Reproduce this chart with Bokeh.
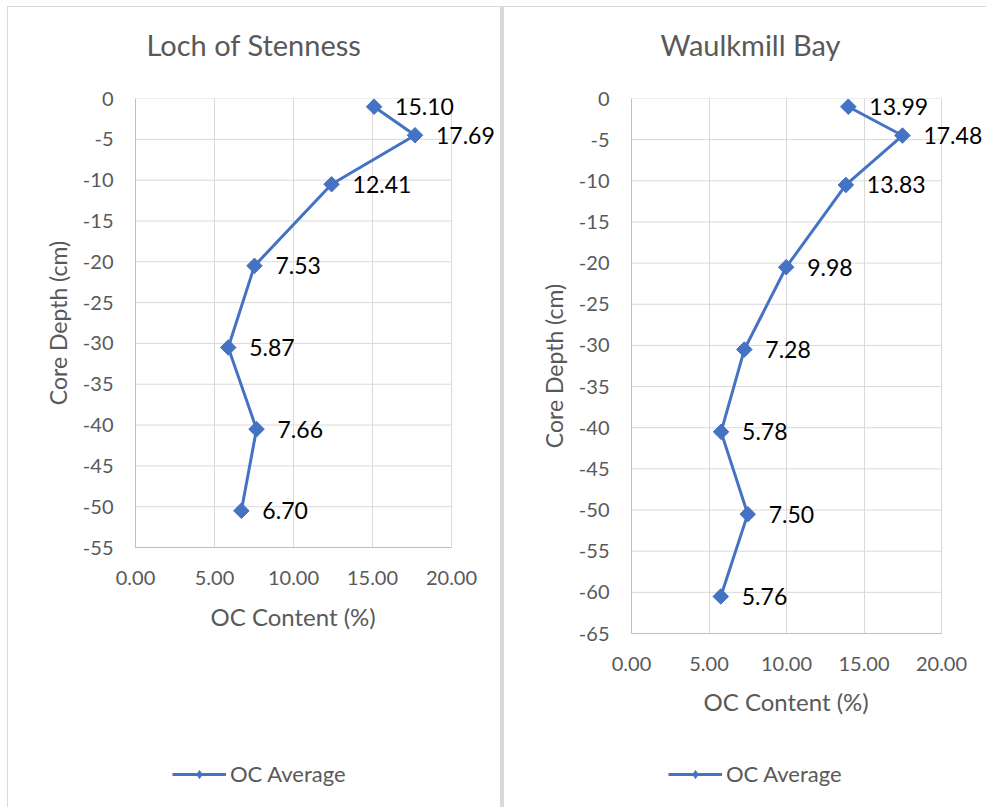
import math
from bokeh.plotting import figure
from bokeh.layouts import row, column
from bokeh.models import (ColumnDataSource, Range1d, FixedTicker, NumeralTickFormatter,
                          Legend, LegendItem, Title)
from bokeh.core.properties import value
from bokeh.embed import file_html
from bokeh.resources import INLINE

# Organic carbon profiles (depth in cm, OC in %)
stenness_depth = [-1, -4.5, -10.5, -20.5, -30.5, -40.5, -50.5]
stenness_oc = [15.10, 17.69, 12.41, 7.53, 5.87, 7.66, 6.70]

waulkmill_depth = [-1, -4.5, -10.5, -20.5, -30.5, -40.5, -50.5, -60.5]
waulkmill_oc = [13.99, 17.48, 13.83, 9.98, 7.28, 5.78, 7.50, 5.76]

x_ticks = [0, 5, 10, 15, 20]
stenness_y_ticks = [0, -5, -10, -15, -20, -25, -30, -35, -40, -45, -50, -55]
waulkmill_y_ticks = [0, -5, -10, -15, -20, -25, -30, -35, -40, -45, -50, -55, -60, -65]

BLUE = "#4472C4"
GREY_TEXT = "#595959"
GRID = "#d9d9d9"
AXIS = "#bfbfbf"
FONT = "Lato"
MAIN_H = 730
KEY_H = 70

LINE_STYLE = dict(line_color=BLUE, line_width=3)
MARKER_STYLE = dict(marker="square", size=11, angle=math.pi / 4,
                    fill_color=BLUE, line_color=BLUE)
KEY_MARKER_STYLE = dict(marker="diamond", size=15, fill_color=BLUE, line_color=BLUE)


def chart(title, src, y_ticks, width, plot_w, spare_w, frame_h,
          b_left, b_top, title_offset, xlabel_offset, xlabel_standoff):
    # the frame runs past x = 20 so the outer data labels have room;
    # axis and grid lines stay within 0..20
    frame_w = plot_w + spare_w
    x_end = x_ticks[-1] * frame_w / plot_w
    p = figure(width=width, height=MAIN_H, output_backend="svg", toolbar_location=None,
               x_range=Range1d(0, x_end), y_range=Range1d(y_ticks[-1], 0),
               frame_width=frame_w, frame_height=frame_h,
               min_border_left=b_left, min_border_right=0,
               min_border_top=b_top, min_border_bottom=MAIN_H - b_top - frame_h,
               background_fill_color="white", border_fill_color="white")

    p.title.text = title
    p.title.text_font = FONT
    p.title.text_font_size = "29px"
    p.title.text_font_style = "normal"
    p.title.text_color = GREY_TEXT
    p.title.align = "left"
    p.title.offset = title_offset
    p.title.standoff = 10
    # blank gap between the frame and the chart title
    p.add_layout(Title(text=" ", text_font_size="1px", standoff=29), "above")

    p.outline_line_color = None
    p.xgrid.grid_line_color = GRID
    p.xgrid.ticker = FixedTicker(ticks=x_ticks)
    p.ygrid.visible = False
    # horizontal grid lines limited to the 0..20 plot area
    p.segment(x0=[x_ticks[0]] * len(y_ticks), x1=[x_ticks[-1]] * len(y_ticks),
              y0=y_ticks, y1=y_ticks, line_color=GRID, line_width=1)

    p.xaxis.ticker = FixedTicker(ticks=x_ticks)
    p.xaxis.formatter = NumeralTickFormatter(format="0.00")
    p.xaxis.bounds = (x_ticks[0], x_ticks[-1])
    p.yaxis.ticker = FixedTicker(ticks=y_ticks)
    p.yaxis.formatter = NumeralTickFormatter(format="0")

    for ax in (p.xaxis[0], p.yaxis[0]):
        ax.axis_line_color = AXIS
        ax.major_tick_line_color = None
        ax.minor_tick_line_color = None
        ax.major_tick_out = 0
        ax.major_tick_in = 0
        ax.major_label_text_font = FONT
        ax.major_label_text_font_size = "20px"
        ax.major_label_text_color = GREY_TEXT
        ax.axis_label_text_font = FONT
        ax.axis_label_text_font_size = "23px"
        ax.axis_label_text_font_style = "normal"
        ax.axis_label_text_color = GREY_TEXT

    p.yaxis.axis_label = "Core Depth (cm)"
    p.xaxis.major_label_standoff = 23
    p.yaxis.major_label_standoff = 22
    p.yaxis.axis_label_standoff = 8

    # x-axis title, centred under the 0..20 span
    p.add_layout(Title(text="OC Content (%)", align="left", offset=xlabel_offset,
                       standoff=xlabel_standoff, text_font=FONT, text_font_size="24px",
                       text_font_style="normal", text_color=GREY_TEXT), "below")

    p.line("oc", "depth", source=src, **LINE_STYLE)
    p.scatter("oc", "depth", source=src, **MARKER_STYLE)
    p.text("oc", "depth", text="label", source=src, x_offset=21,
           text_align="left", text_baseline="middle", text_color="black",
           text_font=value(FONT), text_font_size="23px")
    return p


def key_strip(src, width, loc):
    # strip under the chart holding the series key; its view window lies
    # away from the data, so only the key itself shows
    q = figure(width=width, height=KEY_H, output_backend="svg", toolbar_location=None,
               x_range=Range1d(0, 1), y_range=Range1d(0, 1),
               x_axis_type=None, y_axis_type=None,
               frame_width=width, frame_height=KEY_H,
               min_border_left=0, min_border_right=0,
               min_border_top=0, min_border_bottom=0,
               background_fill_color="white", border_fill_color="white")
    q.outline_line_color = None
    lr = q.line("oc", "depth", source=src, **LINE_STYLE)
    mr = q.scatter("oc", "depth", source=src, **KEY_MARKER_STYLE)
    legend = Legend(items=[LegendItem(label="OC Average", renderers=[lr, mr])],
                    location=loc, orientation="horizontal",
                    glyph_width=54, glyph_height=20, label_standoff=4,
                    padding=0, margin=0, spacing=0,
                    border_line_color=None, background_fill_alpha=0,
                    label_text_font=FONT, label_text_font_size="22px",
                    label_text_color=GREY_TEXT)
    q.add_layout(legend)
    return q


def source(oc, depth):
    return ColumnDataSource(dict(oc=oc, depth=depth, label=[f"{v:.2f}" for v in oc]))


st_src = source(stenness_oc, stenness_depth)
wm_src = source(waulkmill_oc, waulkmill_depth)

left_p = chart("Loch of Stenness", st_src, stenness_y_ticks,
               width=492, plot_w=316, spare_w=49, frame_h=449,
               b_left=127, b_top=91, title_offset=11,
               xlabel_offset=75, xlabel_standoff=25)
right_p = chart("Waulkmill Bay", wm_src, waulkmill_y_ticks,
                width=482, plot_w=310, spare_w=45, frame_h=535,
                b_left=127, b_top=91, title_offset=29,
                xlabel_offset=72, xlabel_standoff=23)

left_col = column(left_p, key_strip(st_src, 492, (164, 20)),
                  spacing=0, margin=(1, 0, 0, 1),
                  styles={"background-color": "white"})
right_col = column(right_p, key_strip(wm_src, 482, (164, 20)),
                   spacing=0, margin=(1, 0, 0, 4),
                   styles={"background-color": "white"})

# the light grey shows through the margins as the chart-area borders
layout = row(left_col, right_col, spacing=0, margin=(6, 0, 0, 7),
             styles={"background-color": "#d9d9d9"})
open("out.html", "w").write(file_html(layout, INLINE))
